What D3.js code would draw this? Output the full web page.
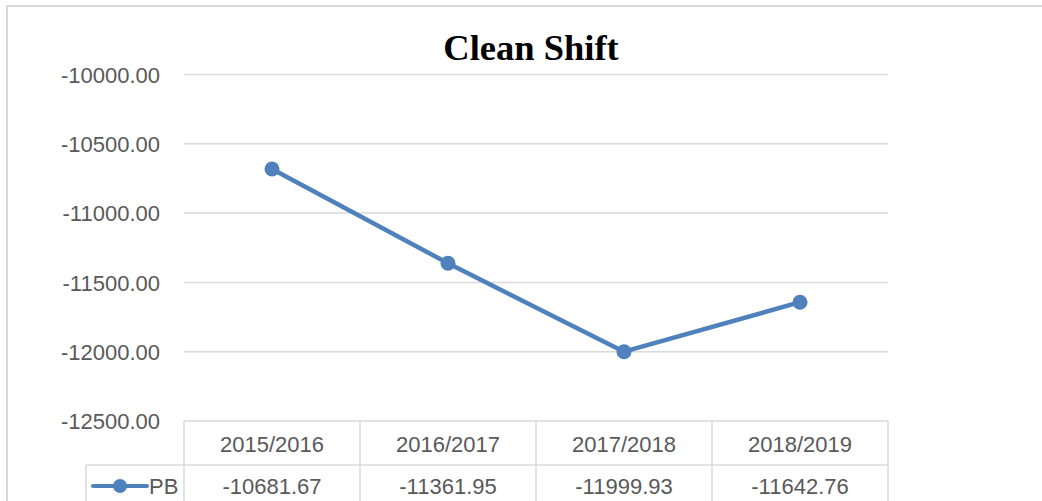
<!DOCTYPE html>
<html>
<head>
<meta charset="utf-8">
<script src="https://cdn.jsdelivr.net/npm/d3@7"></script>
<style>
	body { margin: 0; background: #fff; }
	text { font-family: "Liberation Sans", Arial, sans-serif; fill: #595959; }
</style>
</head>
<body>
<script>
// chart data
var categories = ["2015/2016", "2016/2017", "2017/2018", "2018/2019"];
var seriesName = "PB";
var pbValues = [-10681.67, -11361.95, -11999.93, -11642.76];
var yTicks = [-10000, -10500, -11000, -11500, -12000, -12500];

var width = 1042, height = 501;
var plotL = 184, plotR = 888, plotT = 74.5, plotB = 421;

var svg = d3.select("body").append("svg")
	.attr("width", width)
	.attr("height", height);

// chart border
svg.append("rect")
	.attr("x", 7).attr("y", 6)
	.attr("width", 1100).attr("height", 600)
	.attr("fill", "none")
	.attr("stroke", "#d9d9d9")
	.attr("stroke-width", 2);

svg.append("text")
	.attr("x", 531).attr("y", 60)
	.attr("text-anchor", "middle")
	.style("font-family", "'Liberation Serif', 'Times New Roman', serif")
	.style("font-weight", "bold")
	.style("font-size", "36.5px")
	.style("fill", "#000")
	.text("Clean Shift");

var x = d3.scaleBand().domain(categories).range([plotL, plotR]);
var y = d3.scaleLinear().domain([-10000, -12500]).range([plotT, plotB]);

// gridlines
svg.append("g").selectAll("line")
	.data(yTicks.slice(0, -1))
	.enter().append("line")
	.attr("x1", plotL).attr("x2", plotR)
	.attr("y1", function(d) { return y(d); })
	.attr("y2", function(d) { return y(d); })
	.attr("stroke", "#d9d9d9")
	.attr("stroke-width", 1.5);

// y axis labels
var yAxis = d3.axisLeft(y)
	.tickValues(yTicks)
	.tickSize(0)
	.tickPadding(0)
	.tickFormat(d3.format(".2f"));

var ya = svg.append("g")
	.attr("transform", "translate(160,0)")
	.call(yAxis);
ya.select(".domain").remove();
ya.selectAll("text")
	.attr("dy", "0.35em")
	.style("font-family", "'Liberation Sans', Arial, sans-serif")
	.style("font-size", "22px")
	.style("fill", "#595959")
	.text(function(d) { return d3.format(".2f")(d).replace("−", "-"); });

// data table
var rowH = 44;
var table = svg.append("g");
var tcol = "#d9d9d9";
table.append("line").attr("x1", plotL).attr("x2", plotR).attr("y1", plotB).attr("y2", plotB)
	.attr("stroke", tcol).attr("stroke-width", 1.5);
table.append("line").attr("x1", 86).attr("x2", plotR).attr("y1", plotB + rowH).attr("y2", plotB + rowH)
	.attr("stroke", tcol).attr("stroke-width", 1.5);
table.append("line").attr("x1", 86).attr("x2", 86).attr("y1", plotB + rowH).attr("y2", height + 5)
	.attr("stroke", tcol).attr("stroke-width", 1.5);
table.selectAll(".vline")
	.data(categories.concat(["end"]))
	.enter().append("line")
	.attr("class", "vline")
	.attr("x1", function(d, i) { return plotL + i * x.bandwidth(); })
	.attr("x2", function(d, i) { return plotL + i * x.bandwidth(); })
	.attr("y1", plotB).attr("y2", height + 5)
	.attr("stroke", tcol).attr("stroke-width", 1.5);

table.selectAll(".cat")
	.data(categories)
	.enter().append("text")
	.attr("x", function(d) { return x(d) + x.bandwidth() / 2; })
	.attr("y", plotB + 31)
	.attr("text-anchor", "middle")
	.style("font-size", "22px")
	.text(function(d) { return d; });

table.selectAll(".val")
	.data(pbValues)
	.enter().append("text")
	.attr("x", function(d, i) { return x(categories[i]) + x.bandwidth() / 2; })
	.attr("y", plotB + rowH + 29)
	.attr("text-anchor", "middle")
	.style("font-size", "22px")
	.text(function(d) { return d.toFixed(2); });

// legend key
var blue = "#4f81bd";
var ly = plotB + rowH + 21;
table.append("line").attr("x1", 93).attr("x2", 147).attr("y1", ly).attr("y2", ly)
	.attr("stroke", blue).attr("stroke-width", 4).attr("stroke-linecap", "round");
table.append("circle").attr("cx", 120).attr("cy", ly).attr("r", 7).attr("fill", blue);
table.append("text").attr("x", 149).attr("y", plotB + rowH + 29)
	.style("font-size", "22px").text(seriesName);

// series line
var line = d3.line()
	.x(function(d, i) { return x(categories[i]) + x.bandwidth() / 2; })
	.y(function(d) { return y(d); });

svg.append("path")
	.datum(pbValues)
	.attr("fill", "none")
	.attr("stroke", blue)
	.attr("stroke-width", 4.5)
	.attr("stroke-linejoin", "round")
	.attr("d", line);

svg.selectAll(".pt")
	.data(pbValues)
	.enter().append("circle")
	.attr("class", "pt")
	.attr("cx", function(d, i) { return x(categories[i]) + x.bandwidth() / 2; })
	.attr("cy", function(d) { return y(d); })
	.attr("r", 7.5)
	.attr("fill", blue);
</script>
</body>
</html>
